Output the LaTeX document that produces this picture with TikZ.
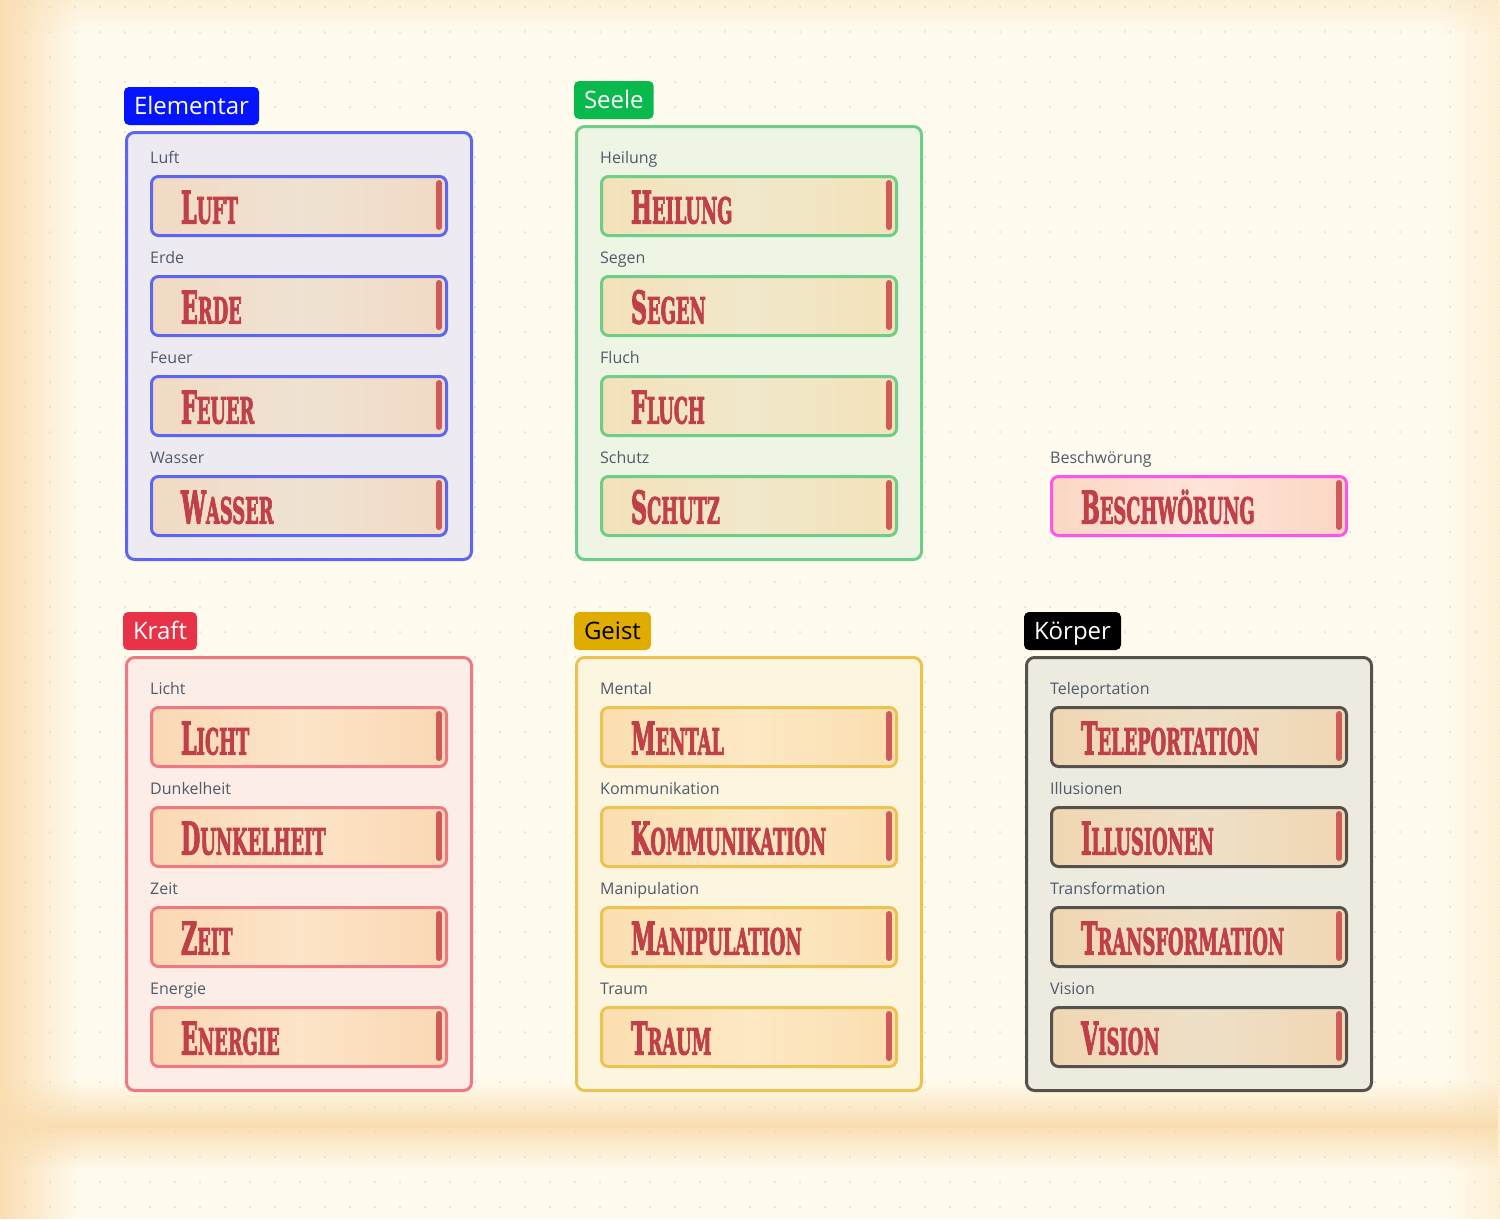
\documentclass[tikz,border=0pt]{standalone}
\usepackage{fontspec}
\usepackage{graphicx}
\usetikzlibrary{positioning,fadings}
\newfontfamily\uifont{Open Sans}
\newfontfamily\spellface{DejaVuSerifCondensed-Bold.ttf}[FakeBold=3]
\newcommand\spell[2]{\scalebox{0.55}[1]{{\fontsize{45}{45}\selectfont #1}{\fontsize{36}{36}\selectfont #2}}}

\definecolor{bgcream}{RGB}{255,252,239}
\definecolor{glow}{RGB}{250,222,178}
\definecolor{dotgray}{RGB}{222,218,205}
\definecolor{spellred}{RGB}{192,64,72}
\definecolor{barred}{RGB}{206,90,90}
\definecolor{labelgray}{RGB}{80,90,108}
% Elementar
\definecolor{elemtag}{RGB}{5,20,255}
\definecolor{elemline}{RGB}{92,102,240}
\definecolor{elemfill}{RGB}{236,234,242}
\definecolor{elemedge}{RGB}{242,218,196}
\definecolor{elemmid}{RGB}{239,226,210}
% Seele
\definecolor{seeltag}{RGB}{10,185,75}
\definecolor{seelline}{RGB}{110,205,135}
\definecolor{seelfill}{RGB}{238,245,228}
\definecolor{seeledge}{RGB}{244,226,186}
\definecolor{seelmid}{RGB}{240,232,202}
% Beschwoerung
\definecolor{beschline}{RGB}{255,85,230}
\definecolor{beschedge}{RGB}{252,214,196}
\definecolor{beschmid}{RGB}{253,228,216}
% Kraft
\definecolor{krafttag}{RGB}{232,50,72}
\definecolor{kraftline}{RGB}{240,120,128}
\definecolor{kraftfill}{RGB}{252,236,230}
\definecolor{kraftedge}{RGB}{251,216,180}
\definecolor{kraftmid}{RGB}{252,228,200}
% Geist
\definecolor{geisttag}{RGB}{224,172,0}
\definecolor{geistline}{RGB}{236,195,80}
\definecolor{geistfill}{RGB}{252,245,222}
\definecolor{geistedge}{RGB}{251,222,176}
\definecolor{geistmid}{RGB}{252,232,196}
% Koerper
\definecolor{koerptag}{RGB}{0,0,0}
\definecolor{koerpline}{RGB}{85,82,78}
\definecolor{koerpfill}{RGB}{236,233,222}
\definecolor{koerpedge}{RGB}{240,214,178}
\definecolor{koerpmid}{RGB}{238,224,200}

\tikzfading[name=glow right, left color=transparent!0, right color=transparent!100]
\tikzfading[name=glow left, left color=transparent!100, right color=transparent!0]
\tikzfading[name=glow down, top color=transparent!0, bottom color=transparent!100]
\tikzfading[name=glow band, top color=transparent!100, bottom color=transparent!100, middle color=transparent!0]

\begin{document}
\begin{tikzpicture}[x=1pt,y=-1pt,
	tag/.style={rounded corners=5pt, anchor=south west, inner xsep=10pt, inner ysep=0pt, outer sep=0pt,
		minimum height=38pt, text height=20pt, text depth=3pt, font=\uifont\fontsize{24}{26}\selectfont},
	frame/.style={rounded corners=8pt, line width=3pt},
	caption/.style={anchor=base west, inner sep=0pt, text=labelgray, font=\uifont\fontsize{16}{18}\selectfont},
	spell/.style={rounded corners=7pt, line width=3pt, anchor=north west, outer sep=0pt, minimum width=295pt,
		minimum height=59pt, text width=236pt, inner xsep=29.5pt, align=left,
		text height=35pt, text depth=0pt, text=spellred, font=\spellface},
	bar/.style={line width=6pt, line cap=round, draw=barred}]
	\useasboundingbox (0,0) rectangle (1500,1219);
	% background
	\fill[bgcream] (0,0) rectangle (1500,1219);
	\fill[glow, path fading=glow right] (0,0) rectangle (80,1219);
	\fill[glow, path fading=glow left, opacity=0.4] (1440,0) rectangle (1500,1219);
	\fill[glow, path fading=glow down, opacity=0.35] (0,0) rectangle (1500,35);
	\fill[glow, path fading=glow band] (0,1080) rectangle (1500,1170);
	\foreach \x in {0,25,...,1500}
		\foreach \y in {7,32,...,1219}
			\fill[dotgray] (\x,\y) circle (1pt);
	
	% Elementar
	\draw[frame, draw=elemline, fill=elemfill, fill opacity=0.9] (126.5,132.5) rectangle (471.5,559.5);
	\node[tag, fill=elemtag, text=white] (elementar) at (124,125) {Elementar};
	\foreach \i/\first/\rest/\name in {0/L/UFT/Luft, 1/E/RDE/Erde, 2/F/EUER/Feuer, 3/W/ASSER/Wasser} {
		\node[caption] (elem-cap-\i) at (150,{163+100*\i}) {\name};
		\node[spell, draw=elemline, left color=elemedge, right color=elemedge, middle color=elemmid]
			(elem-\i) at (151.5,{176.5+100*\i}) {\spell{\first}{\rest}};
		\draw[bar] ([xshift=-7.5pt,yshift=-6.5pt]elem-\i.north east) -- ([xshift=-7.5pt,yshift=8.5pt]elem-\i.south east);
	}
	
	% Seele
	\draw[frame, draw=seelline, fill=seelfill, fill opacity=0.9] (576.5,126.5) rectangle (921.5,559.5);
	\node[tag, fill=seeltag, text=white] (seele) at (574,119) {Seele};
	\foreach \i/\first/\rest/\name in {0/H/EILUNG/Heilung, 1/S/EGEN/Segen, 2/F/LUCH/Fluch, 3/S/CHUTZ/Schutz} {
		\node[caption] (seel-cap-\i) at (600,{163+100*\i}) {\name};
		\node[spell, draw=seelline, left color=seeledge, right color=seeledge, middle color=seelmid]
			(seel-\i) at (601.5,{176.5+100*\i}) {\spell{\first}{\rest}};
		\draw[bar] ([xshift=-7.5pt,yshift=-6.5pt]seel-\i.north east) -- ([xshift=-7.5pt,yshift=8.5pt]seel-\i.south east);
	}
	
	% Beschwoerung
	\node[caption] (besch-cap) at (1050,463) {Beschwörung};
	\node[spell, draw=beschline, left color=beschedge, right color=beschedge, middle color=beschmid]
		(besch) at (1051.5,476.5) {\spell{B}{ESCHWÖRUNG}};
	\draw[bar] ([xshift=-7.5pt,yshift=-6.5pt]besch.north east) -- ([xshift=-7.5pt,yshift=8.5pt]besch.south east);
	
	% Kraft
	\draw[frame, draw=kraftline, fill=kraftfill, fill opacity=0.9] (126.5,657.5) rectangle (471.5,1090.5);
	\node[tag, fill=krafttag, text=white] (kraft) at (123,650) {Kraft};
	\foreach \i/\first/\rest/\name in {0/L/ICHT/Licht, 1/D/UNKELHEIT/Dunkelheit, 2/Z/EIT/Zeit, 3/E/NERGIE/Energie} {
		\node[caption] (kraft-cap-\i) at (150,{694+100*\i}) {\name};
		\node[spell, draw=kraftline, left color=kraftedge, right color=kraftedge, middle color=kraftmid]
			(kraft-\i) at (151.5,{707.5+100*\i}) {\spell{\first}{\rest}};
		\draw[bar] ([xshift=-7.5pt,yshift=-6.5pt]kraft-\i.north east) -- ([xshift=-7.5pt,yshift=8.5pt]kraft-\i.south east);
	}
	
	% Geist
	\draw[frame, draw=geistline, fill=geistfill, fill opacity=0.9] (576.5,657.5) rectangle (921.5,1090.5);
	\node[tag, fill=geisttag, text=black] (geist) at (574,650) {Geist};
	\foreach \i/\first/\rest/\name in {0/M/ENTAL/Mental, 1/K/OMMUNIKATION/Kommunikation, 2/M/ANIPULATION/Manipulation, 3/T/RAUM/Traum} {
		\node[caption] (geist-cap-\i) at (600,{694+100*\i}) {\name};
		\node[spell, draw=geistline, left color=geistedge, right color=geistedge, middle color=geistmid]
			(geist-\i) at (601.5,{707.5+100*\i}) {\spell{\first}{\rest}};
		\draw[bar] ([xshift=-7.5pt,yshift=-6.5pt]geist-\i.north east) -- ([xshift=-7.5pt,yshift=8.5pt]geist-\i.south east);
	}
	
	% Koerper
	\draw[frame, draw=koerpline, fill=koerpfill, fill opacity=0.9] (1026.5,657.5) rectangle (1371.5,1090.5);
	\node[tag, fill=koerptag, text=white] (koerper) at (1024,650) {Körper};
	\foreach \i/\first/\rest/\name in {0/T/ELEPORTATION/Teleportation, 1/I/LLUSIONEN/Illusionen, 2/T/RANSFORMATION/Transformation, 3/V/ISION/Vision} {
		\node[caption] (koerp-cap-\i) at (1050,{694+100*\i}) {\name};
		\node[spell, draw=koerpline, left color=koerpedge, right color=koerpedge, middle color=koerpmid]
			(koerp-\i) at (1051.5,{707.5+100*\i}) {\spell{\first}{\rest}};
		\draw[bar] ([xshift=-7.5pt,yshift=-6.5pt]koerp-\i.north east) -- ([xshift=-7.5pt,yshift=8.5pt]koerp-\i.south east);
	}
\end{tikzpicture}
\end{document}
